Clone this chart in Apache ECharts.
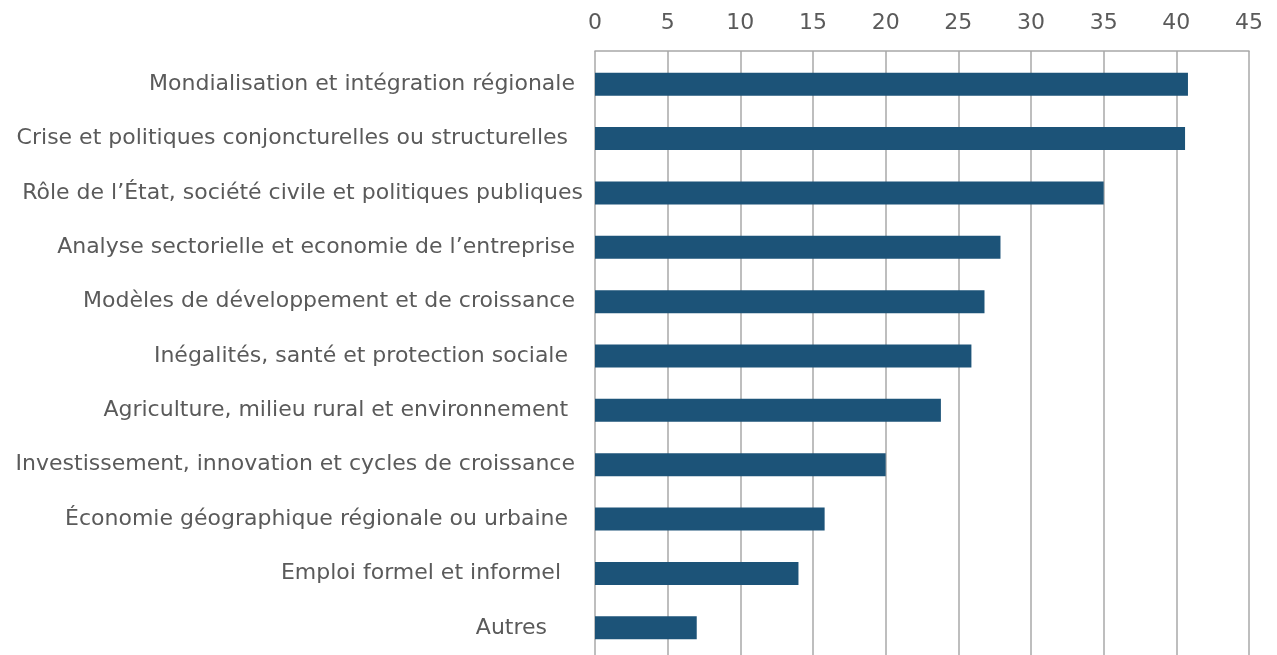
<html>
<head>
<meta charset="UTF-8">
<script src="https://cdn.jsdelivr.net/npm/echarts@6/dist/echarts.min.js"></script>
<style>
  html, body { margin: 0; padding: 0; background: #fff; }
  #main { width: 1277px; height: 655px; }
</style>
</head>
<body>
<div id="main"></div>
<script>
// thèmes (du haut vers le bas)
var categories = [
  'Mondialisation et intégration régionale',
  'Crise et politiques conjoncturelles ou structurelles ',
  'Rôle de l\u2019État, société civile et politiques publiques',
  'Analyse sectorielle et economie de l\u2019entreprise',
  'Modèles de développement et de croissance',
  'Inégalités, santé et protection sociale ',
  'Agriculture, milieu rural et environnement ',
  'Investissement, innovation et cycles de croissance',
  'Économie géographique régionale ou urbaine ',
  'Emploi formel et informel  ',
  'Autres    '
];
var values = [40.8, 40.6, 35, 27.9, 26.8, 25.9, 23.8, 20, 15.8, 14, 7];
var xTicks = [0, 5, 10, 15, 20, 25, 30, 35, 40, 45];

var font = 'DejaVu Sans';
var textColor = '#5a5a5a';
var gridColor = '#a8a8a8';

var chart = echarts.init(document.getElementById('main'));
chart.setOption({
  animation: false,
  grid: { left: 595, right: 28, top: 57, height: 603 },
  xAxis: {
    type: 'value',
    position: 'top',
    offset: 6,
    min: xTicks[0],
    max: xTicks[xTicks.length - 1],
    interval: xTicks[1] - xTicks[0],
    axisLine: { show: true, lineStyle: { color: gridColor, width: 1.5 } },
    axisTick: { show: true, inside: true, length: 6, lineStyle: { color: gridColor, width: 1.5 } },
    splitLine: { show: true, lineStyle: { color: gridColor, width: 1.5 } },
    axisLabel: { margin: 17, color: textColor, fontFamily: font, fontSize: 22 }
  },
  yAxis: {
    type: 'category',
    inverse: true,
    data: categories,
    axisLine: { show: false },
    axisTick: { show: false },
    axisLabel: {
      margin: 12,
      color: textColor,
      fontFamily: font,
      fontSize: 22,
      formatter: function (v) {
        // le libellé « Rôle de l'État » déborde un peu plus près de l'axe
        return v.indexOf('Rôle') === 0 ? '{n|' + v + '}' : '{p|' + v + '}';
      },
      rich: {
        n: { color: textColor, fontFamily: font, fontSize: 22 },
        p: { color: textColor, fontFamily: font, fontSize: 22, padding: [0, 8, 0, 0] }
      }
    }
  },
  series: [{
    type: 'bar',
    data: values,
    barWidth: 23,
    itemStyle: { color: '#1c5378' }
  }]
});
</script>
</body>
</html>
